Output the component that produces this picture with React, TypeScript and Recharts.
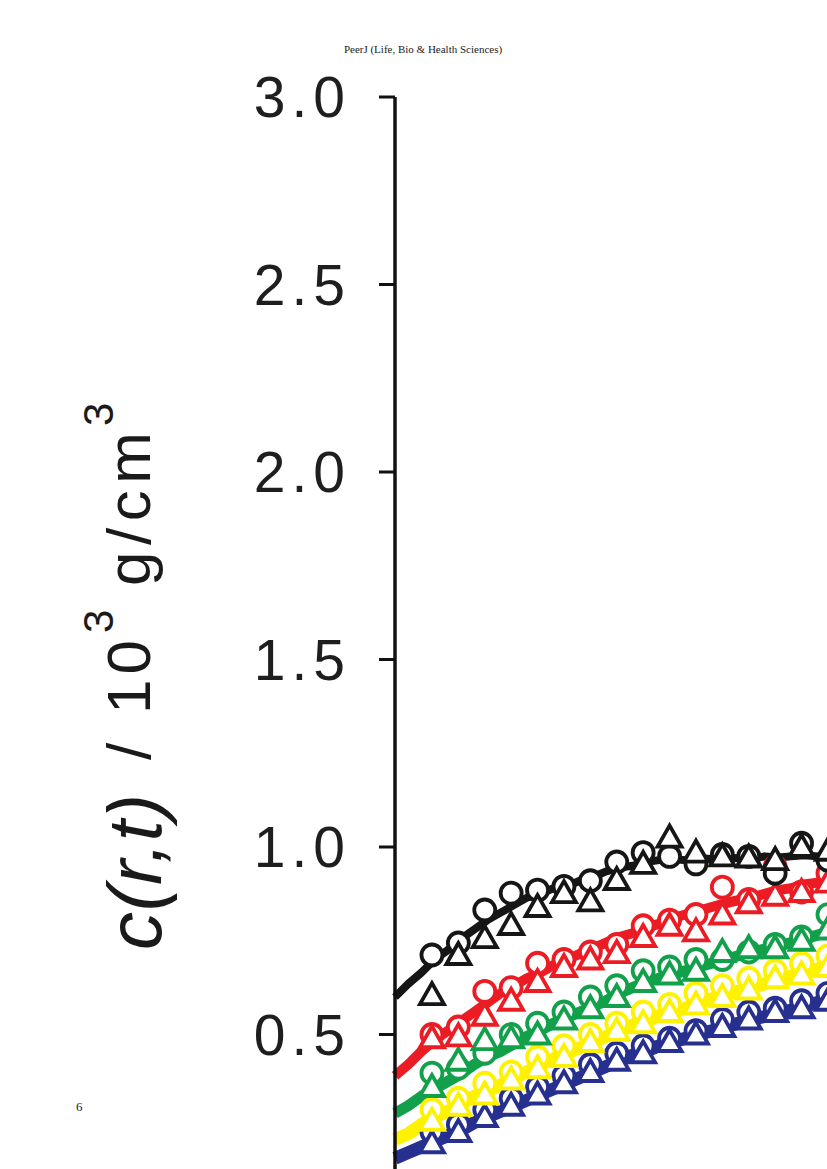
import React from 'react'
import { ComposedChart, Line, Scatter, XAxis, YAxis } from 'recharts'

// radial position of each sampled point on the profile curves
const rLine = [0, 0.5, 1, 1.5, 2, 2.5, 3, 3.5, 4, 4.5, 5, 5.5, 6, 6.5, 7, 7.5, 8, 8.5, 9, 9.5, 10, 10.5, 11, 11.5, 12, 12.5, 13, 13.5, 14, 14.5, 15, 15.5, 16, 16.5]
// radial position of the experimental markers
const rMark = [1.4, 2.4, 3.4, 4.4, 5.4, 6.4, 7.4, 8.4, 9.4, 10.4, 11.4, 12.4, 13.4, 14.4, 15.4, 16.4]

const blackLine = [0.6, 0.635, 0.665, 0.7, 0.725, 0.755, 0.78, 0.805, 0.825, 0.845, 0.865, 0.875, 0.89, 0.895, 0.91, 0.92, 0.935, 0.945, 0.95, 0.96, 0.965, 0.968, 0.965, 0.97, 0.968, 0.972, 0.97, 0.968, 0.975, 0.972, 0.975, 0.978, 0.975, 0.98]
const redLine = [0.39, 0.42, 0.455, 0.485, 0.51, 0.535, 0.56, 0.585, 0.61, 0.63, 0.65, 0.665, 0.685, 0.7, 0.715, 0.73, 0.745, 0.76, 0.77, 0.785, 0.795, 0.81, 0.82, 0.83, 0.84, 0.85, 0.858, 0.865, 0.875, 0.885, 0.89, 0.9, 0.905, 0.915]
const greenLine = [0.29, 0.31, 0.335, 0.355, 0.375, 0.395, 0.42, 0.44, 0.455, 0.475, 0.495, 0.51, 0.53, 0.545, 0.56, 0.575, 0.59, 0.61, 0.625, 0.64, 0.65, 0.66, 0.67, 0.68, 0.69, 0.7, 0.71, 0.72, 0.728, 0.736, 0.745, 0.755, 0.765, 0.775]
const yellowLine = [0.22, 0.235, 0.26, 0.28, 0.295, 0.315, 0.335, 0.35, 0.365, 0.385, 0.4, 0.42, 0.435, 0.45, 0.465, 0.48, 0.495, 0.51, 0.525, 0.535, 0.55, 0.56, 0.57, 0.585, 0.595, 0.605, 0.615, 0.625, 0.635, 0.645, 0.655, 0.665, 0.675, 0.685]
const blueLine = [0.17, 0.185, 0.2, 0.215, 0.23, 0.245, 0.265, 0.28, 0.295, 0.31, 0.325, 0.34, 0.355, 0.37, 0.385, 0.4, 0.415, 0.43, 0.445, 0.455, 0.47, 0.48, 0.49, 0.5, 0.51, 0.52, 0.53, 0.54, 0.548, 0.556, 0.565, 0.575, 0.585, 0.592]

const blackCircles = [0.712, 0.744, 0.832, 0.877, 0.885, 0.895, 0.91, 0.96, 0.985, 0.975, 0.955, 0.98, 0.975, 0.93, 1.01, 0.965]
const blackTriangles = [0.605, 0.712, 0.757, 0.792, 0.84, 0.877, 0.855, 0.912, 0.955, 1.025, 0.985, 0.975, 0.972, 0.965, 1.0, 0.99]
const redCircles = [0.5, 0.52, 0.615, 0.625, 0.69, 0.7, 0.72, 0.74, 0.79, 0.805, 0.82, 0.893, 0.86, 0.947, 0.88, 0.93]
const redTriangles = [0.49, 0.495, 0.55, 0.59, 0.64, 0.68, 0.7, 0.717, 0.76, 0.79, 0.775, 0.82, 0.85, 0.87, 0.88, 0.905]
const greenCircles = [0.397, 0.41, 0.45, 0.5, 0.53, 0.56, 0.6, 0.63, 0.67, 0.68, 0.7, 0.7, 0.72, 0.74, 0.76, 0.82]
const greenTriangles = [0.36, 0.43, 0.485, 0.49, 0.5, 0.54, 0.57, 0.6, 0.64, 0.66, 0.67, 0.72, 0.73, 0.73, 0.75, 0.78]
const yellowCircles = [0.3, 0.33, 0.37, 0.4, 0.44, 0.47, 0.5, 0.53, 0.56, 0.58, 0.61, 0.63, 0.65, 0.67, 0.69, 0.71]
const yellowTriangles = [0.27, 0.31, 0.34, 0.38, 0.41, 0.44, 0.48, 0.51, 0.53, 0.56, 0.58, 0.6, 0.62, 0.65, 0.66, 0.68]
const blueCircles = [0.24, 0.26, 0.3, 0.33, 0.36, 0.39, 0.42, 0.45, 0.47, 0.49, 0.51, 0.54, 0.56, 0.57, 0.59, 0.61]
const blueTriangles = [0.21, 0.24, 0.28, 0.31, 0.34, 0.37, 0.4, 0.43, 0.45, 0.48, 0.5, 0.52, 0.54, 0.56, 0.57, 0.59]

const yTicks = [0, 0.5, 1.0, 1.5, 2.0, 2.5, 3.0]

const lineData = rLine.map((r, i) => ({
  r,
  black: blackLine[i],
  red: redLine[i],
  green: greenLine[i],
  yellow: yellowLine[i],
  blue: blueLine[i],
}))

const marks = (vals: number[]) => rMark.map((r, i) => ({ r, v: vals[i] }))

const series = [
  { key: 'blue', color: '#27308f', line: 13, circles: blueCircles, triangles: blueTriangles },
  { key: 'yellow', color: '#fff200', line: 13, circles: yellowCircles, triangles: yellowTriangles },
  { key: 'green', color: '#12a14a', line: 11, circles: greenCircles, triangles: greenTriangles },
  { key: 'red', color: '#ec1c24', line: 10, circles: redCircles, triangles: redTriangles },
  { key: 'black', color: '#161616', line: 8, circles: blackCircles, triangles: blackTriangles },
]

const ring = (color: string) => (props: any) => (
  <circle cx={props.cx} cy={props.cy} r={10.5} fill="#fff" stroke={color} strokeWidth={3.8} />
)

const tri = (color: string) => (props: any) => {
  const { cx, cy } = props
  return (
    <path
      d={`M${cx},${cy - 12} L${cx - 12},${cy + 9} L${cx + 12},${cy + 9} Z`}
      fill="#fff"
      stroke={color}
      strokeWidth={3.8}
      strokeLinejoin="miter"
    />
  )
}

const font = "'Liberation Sans', Arial, sans-serif"

// rotated y-axis title; in the rotated frame x runs up the page and y runs right
function AxisTitle() {
  return (
    <text transform="rotate(-90)" fontFamily={font} fill="#1a1a1a" fontSize={62}>
      <tspan x={-950} y={161} fontStyle="italic" fontSize={76} textLength={156} lengthAdjust="spacing">c(r,t)</tspan>
      <tspan x={-760} y={150}>/</tspan>
      <tspan x={-714} y={150} textLength={74} lengthAdjust="spacing">10</tspan>
      <tspan x={-633} y={113} fontSize={42}>3</tspan>
      <tspan x={-586} y={150} textLength={154} lengthAdjust="spacing">g/cm</tspan>
      <tspan x={-426} y={113} fontSize={42}>3</tspan>
    </text>
  )
}

export default function App() {
  return (
    <div style={{ position: 'absolute', left: 0, top: 0, width: 827, height: 1169, overflow: 'hidden', background: '#fff' }}>
      <div
        style={{
          position: 'absolute', left: 0, top: 43, width: 846, textAlign: 'center',
          fontFamily: "'Liberation Serif', 'Times New Roman', serif", fontSize: 11, color: '#222',
        }}
      >
        PeerJ (Life, Bio &amp; Health Sciences)
      </div>
      <div
        style={{
          position: 'absolute', left: 76, top: 1099,
          fontFamily: "'Liberation Serif', 'Times New Roman', serif", fontSize: 13, color: '#222',
        }}
      >
        6
      </div>
      <div style={{ position: 'absolute', left: 0, top: 0 }}>
        <ComposedChart width={933} height={1227} data={lineData} margin={{ top: 97, right: 10, bottom: 5, left: 0 }}>
          <XAxis dataKey="r" type="number" domain={[0, 20]} hide />
          <YAxis
            type="number"
            domain={[0, 3]}
            ticks={yTicks}
            width={395}
            tickFormatter={(v: number) => v.toFixed(1)}
            axisLine={{ stroke: '#111', strokeWidth: 3.5 }}
            tickLine={{ stroke: '#111', strokeWidth: 3 }}
            tickSize={16}
            tickMargin={28}
            tick={{ fontSize: 57, fill: '#1e1e1e', fontFamily: font, letterSpacing: 6 }}
            label={<AxisTitle />}
          />
          {series.flatMap((s) => [
            <Line
              key={`${s.key}-line`}
              dataKey={s.key}
              type="linear"
              stroke={s.color}
              strokeWidth={s.line}
              strokeLinejoin="round"
              dot={false}
              isAnimationActive={false}
            />,
            <Scatter
              key={`${s.key}-circ`}
              data={marks(s.circles)}
              dataKey="v"
              shape={ring(s.color)}
              isAnimationActive={false}
            />,
            <Scatter
              key={`${s.key}-tri`}
              data={marks(s.triangles)}
              dataKey="v"
              shape={tri(s.color)}
              isAnimationActive={false}
            />,
          ])}
        </ComposedChart>
      </div>
    </div>
  )
}
